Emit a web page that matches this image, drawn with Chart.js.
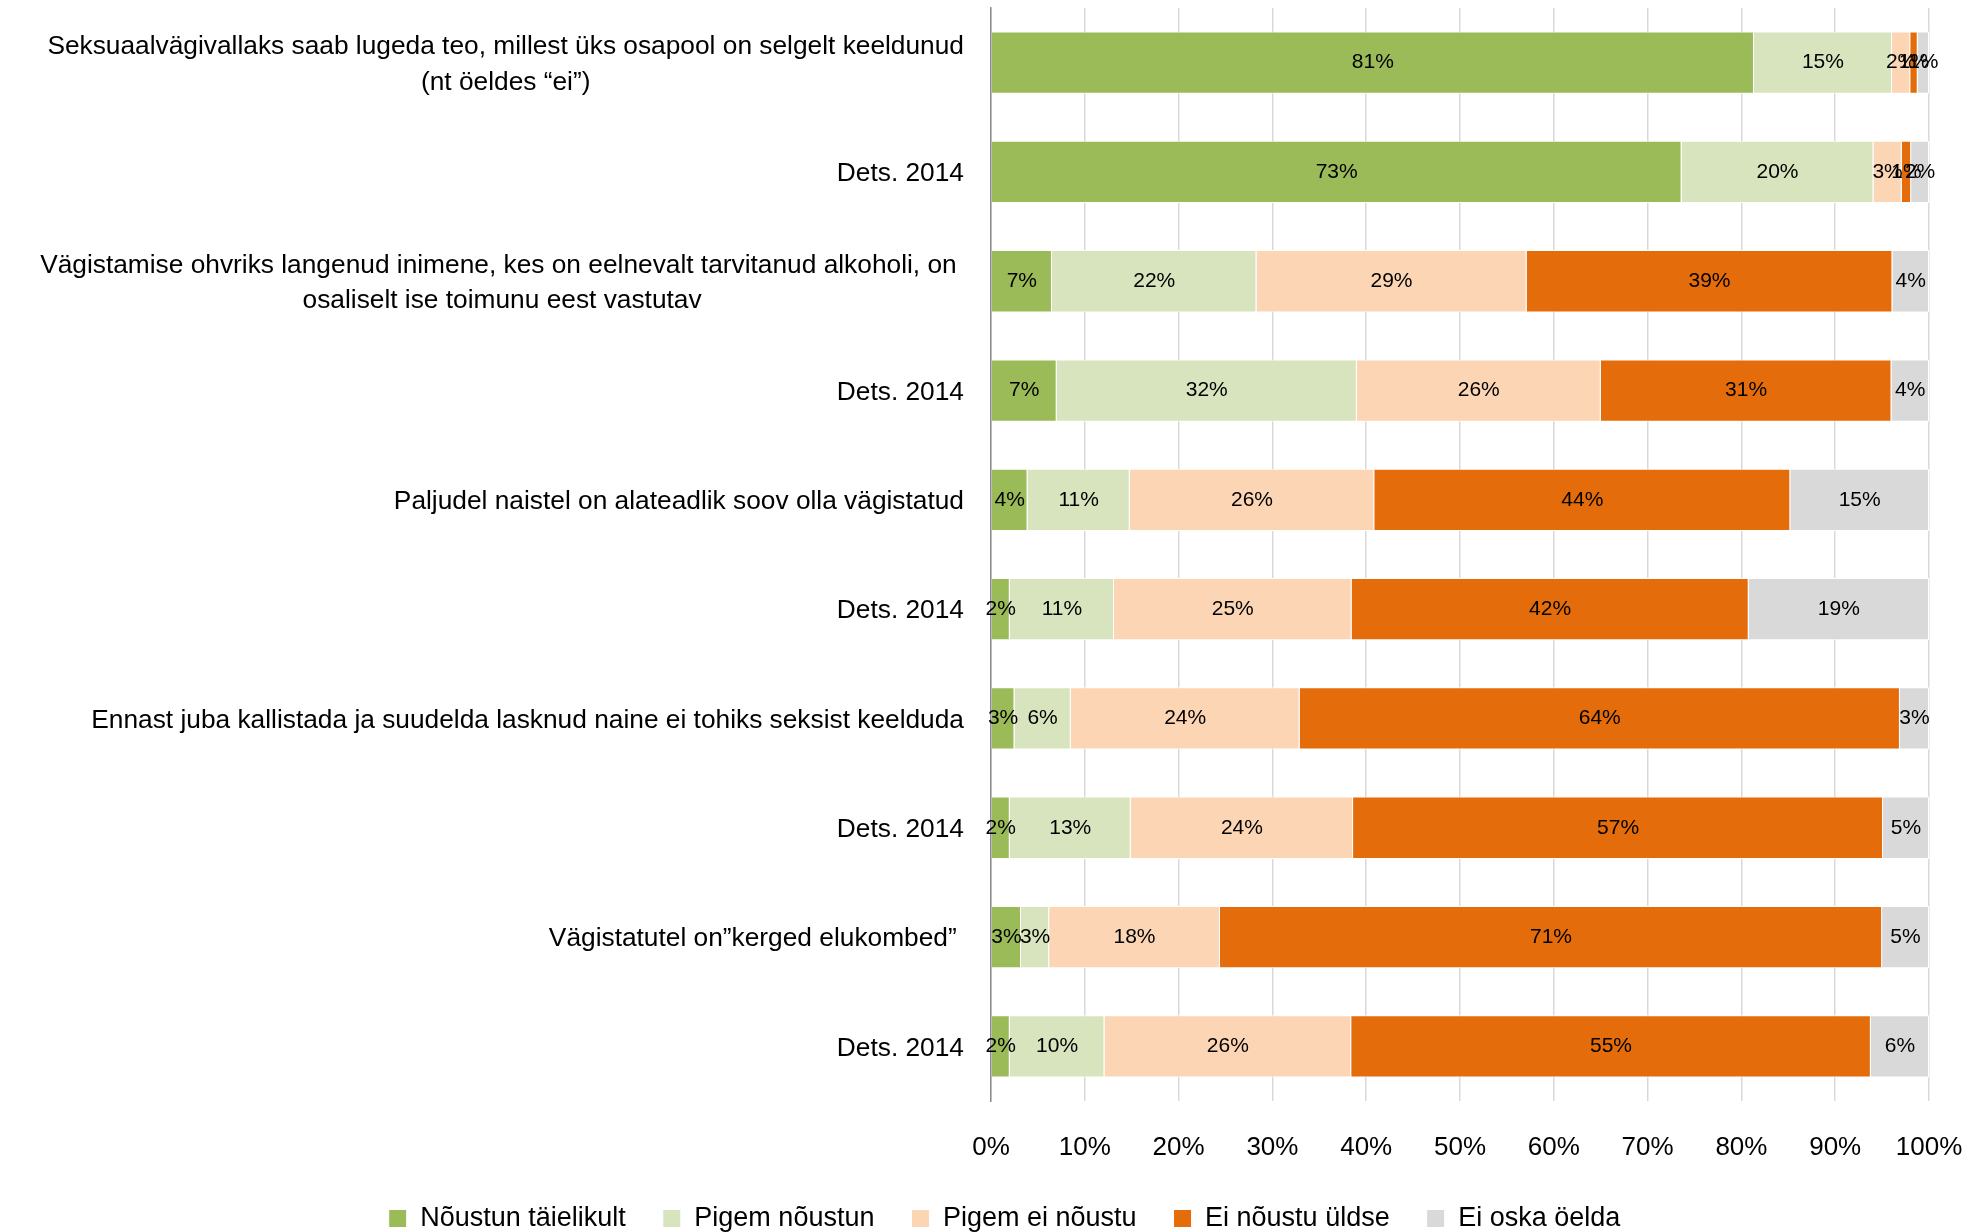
<!DOCTYPE html>
<html>
<head>
<meta charset="utf-8">
<script src="https://cdn.jsdelivr.net/npm/chart.js@4"></script>
<style>
    body { margin:0; background:#fff; }
    #wrap { width:1986px; height:1232px; position:relative; }
</style>
</head>
<body>
<div id="wrap"><canvas id="chart"></canvas></div>
<script>
// ===== andmed =====
const categories = [
    ['Seksuaalvägivallaks saab lugeda teo, millest üks osapool on selgelt keeldunud', '(nt öeldes “ei”)'],
    ['Dets. 2014'],
    ['Vägistamise ohvriks langenud inimene, kes on eelnevalt tarvitanud alkoholi, on ', 'osaliselt ise toimunu eest vastutav'],
    ['Dets. 2014'],
    ['Paljudel naistel on alateadlik soov olla vägistatud'],
    ['Dets. 2014'],
    ['Ennast juba kallistada ja suudelda lasknud naine ei tohiks seksist keelduda'],
    ['Dets. 2014'],
    ['Vägistatutel on”kerged elukombed” '],
    ['Dets. 2014']
];
const seriesNames = ['Nõustun täielikult', 'Pigem nõustun', 'Pigem ei nõustu', 'Ei nõustu üldse', 'Ei oska öelda'];
const noustunTaielikult = [81.3, 73.4, 6.5, 7.0, 3.9, 2.0, 2.5, 2.0, 3.2, 2.0];
const pigemNoustun      = [14.7, 20.4, 21.8, 32.0, 10.9, 11.1, 6.0, 12.9, 3.0, 10.1];
const pigemEiNoustu     = [1.95, 3.0, 28.8, 26.0, 26.1, 25.3, 24.4, 23.7, 18.2, 26.3];
const eiNoustuYldse     = [0.8, 1.0, 39.0, 31.0, 44.4, 42.3, 64.0, 56.5, 70.6, 55.4];
const eiOskaOelda       = [1.2, 1.9, 3.9, 4.0, 14.8, 19.2, 3.1, 4.9, 5.0, 6.2];
const xTicks = [0, 10, 20, 30, 40, 50, 60, 70, 80, 90, 100];

const colors = ['#9BBB59', '#D7E4BD', '#FCD5B5', '#E46C0A', '#D9D9D9'];
const FONT = '"Liberation Sans", Arial, sans-serif';

// 100% tulp: iga rida normaliseeritakse summale
const raw = [noustunTaielikult, pigemNoustun, pigemEiNoustu, eiNoustuYldse, eiOskaOelda];
const rowSums = categories.map((c, i) => raw.reduce((s, arr) => s + arr[i], 0));

const datasets = raw.map((arr, k) => ({
    label: seriesNames[k],
    data: arr.map((v, i) => v / rowSums[i] * 100),
    rawValues: arr,
    backgroundColor: colors[k],
    borderColor: '#ffffff',
    borderWidth: 1,
    barPercentage: 0.57,
    categoryPercentage: 1
}));

// väärtuste sildid tulpade keskel
const valueLabels = {
    id: 'valueLabels',
    afterDatasetsDraw(chart) {
        const ctx = chart.ctx;
        ctx.save();
        ctx.font = '21px ' + FONT;
        ctx.fillStyle = '#000';
        ctx.textAlign = 'center';
        ctx.textBaseline = 'middle';
        chart.data.datasets.forEach((ds, k) => {
            chart.getDatasetMeta(k).data.forEach((bar, i) => {
                const cx = (bar.x + bar.base) / 2;
                ctx.fillText(Math.round(ds.rawValues[i]) + '%', cx, bar.y);
            });
        });
        ctx.restore();
    }
};

// kategooriate sildid: plokk paremale joondatud, read plokis keskel
const categoryLabels = {
    id: 'categoryLabels',
    afterDraw(chart) {
        const ctx = chart.ctx;
        const yScale = chart.scales.y;
        const right = chart.chartArea.left - 27;
        const lineH = 35.5;
        ctx.save();
        ctx.font = '26.3px ' + FONT;
        ctx.fillStyle = '#000';
        ctx.textAlign = 'center';
        ctx.textBaseline = 'middle';
        categories.forEach((lines, i) => {
            const cy = yScale.getPixelForTick(i) + 2;
            const w = Math.max(...lines.map(l => ctx.measureText(l).width));
            const cx = right - w / 2;
            const y0 = cy - (lines.length - 1) * lineH / 2;
            lines.forEach((l, j) => ctx.fillText(l, cx, y0 + j * lineH));
        });
        ctx.restore();
    }
};

new Chart(document.getElementById('chart'), {
    type: 'bar',
    data: { labels: categories.map(c => c.join(' ')), datasets: datasets },
    options: {
        indexAxis: 'y',
        responsive: true,
        maintainAspectRatio: false,
        animation: false,
        devicePixelRatio: 1,
        layout: { padding: { top: 8, right: 57, left: 80, bottom: 0 } },
        scales: {
            x: {
                stacked: true,
                min: 0, max: 100,
                afterBuildTicks: s => { s.ticks = xTicks.map(v => ({ value: v })); },
                afterFit: s => { s.height = 67; s.paddingRight = 0; s.paddingLeft = 0; },
                ticks: {
                    callback: v => v + '%',
                    font: { family: FONT, size: 26 },
                    color: '#000',
                    padding: 31,
                    maxRotation: 0
                },
                grid: { color: '#D9D9D9', lineWidth: 1.5, drawTicks: false },
                border: { display: false }
            },
            y: {
                stacked: true,
                afterFit: s => { s.width = 911; },
                ticks: { display: false },
                grid: { display: false, drawTicks: false },
                border: { display: true, color: '#8C8C8C', width: 1.5 }
            }
        },
        plugins: {
            legend: {
                position: 'bottom',
                maxHeight: 64,
                labels: {
                    font: { family: FONT, size: 27 },
                    color: '#000',
                    boxWidth: 18,
                    boxHeight: 18,
                    padding: 37
                }
            },
            tooltip: { enabled: false }
        }
    },
    plugins: [valueLabels, categoryLabels]
});
</script>
</body>
</html>
